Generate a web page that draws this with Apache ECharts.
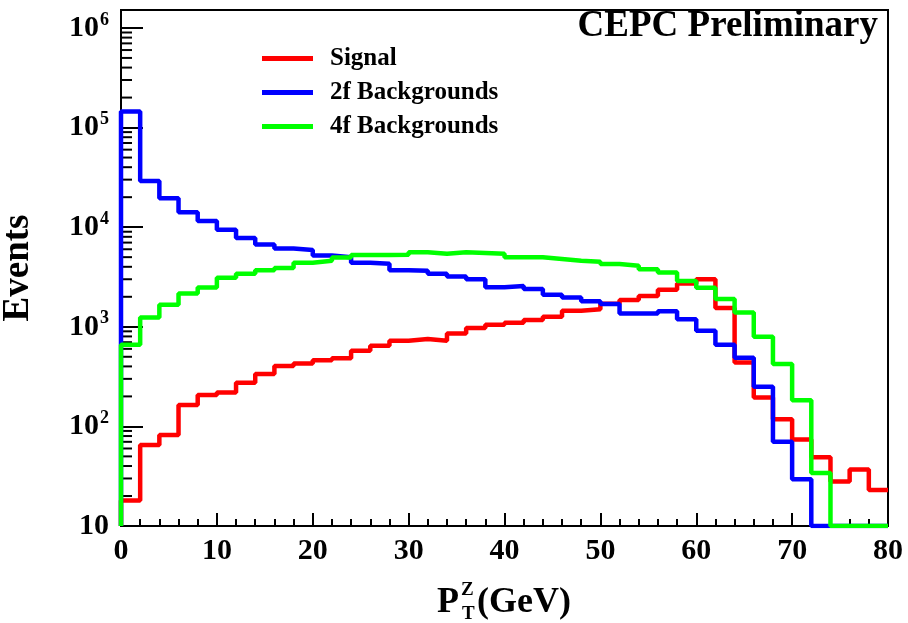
<!DOCTYPE html>
<html>
<head>
<meta charset="utf-8">
<script src="https://cdn.jsdelivr.net/npm/echarts@6/dist/echarts.min.js"></script>
<style>
  html, body { margin: 0; padding: 0; background: #fff; }
  #chart { width: 908px; height: 623px; }
</style>
</head>
<body>
<div id="chart"></div>
<script>
// bin left edges (GeV), bin width 2
var binEdges = [0, 2, 4, 6, 8, 10, 12, 14, 16, 18, 20, 22, 24, 26, 28, 30, 32, 34, 36, 38,
                40, 42, 44, 46, 48, 50, 52, 54, 56, 58, 60, 62, 64, 66, 68, 70, 72, 74, 76, 78];
var xEnd = 80;

var signal = [18, 65, 82, 164, 207, 219, 275, 335, 405, 427, 462, 484, 574, 644, 723,
              752, 723, 857, 970, 1050, 1100, 1170, 1260, 1450, 1500, 1700, 1860, 2040, 2350, 2720,
              3000, 1540, 437, 195, 118, 74, 49, 28, 37, 23];
var bkg2f = [145000, 29000, 19500, 14100, 11500, 9400, 7800, 6700, 6100, 5900, 5200, 5000, 4400, 4300, 3700,
             3660, 3400, 3200, 3000, 2500, 2570, 2400, 2100, 1970, 1800, 1690, 1360, 1360, 1430, 1190,
             910, 660, 490, 250, 70, 29.5, 10, 10, 10, 10];
var bkg4f = [660, 1240, 1660, 2160, 2480, 3100, 3400, 3700, 3900, 4400, 4600, 4970, 5250, 5250, 5300,
             5600, 5400, 5600, 5500, 5400, 5000, 5000, 4800, 4600, 4500, 4270, 4100, 3780, 3500, 2880,
             2460, 1900, 1390, 795, 422, 183, 34, 10, 10, 10];

var seriesNames = ['Signal', '2f Backgrounds', '4f Backgrounds'];
var seriesColors = ['#ff0000', '#0000ff', '#00ff00'];

// y axis: decades and the minor multipliers between them
var decades = [10, 100, 1000, 10000, 100000, 1000000];
var minorMult = [2, 3, 4, 5, 6, 7, 8, 9];
var yMin = 10, yMax = 1.514e6;

var serif = "'Liberation Serif', 'Times New Roman', serif";

function histPoints(vals) {
    // ROOT style: start from the axis floor, then one step per bin
    var pts = [[binEdges[0], yMin]];
    for (var i = 0; i < vals.length; i++) pts.push([binEdges[i], vals[i]]);
    pts.push([xEnd, vals[vals.length - 1]]);
    return pts;
}

var minorTicks = [];
decades.forEach(function (d) {
    minorMult.forEach(function (m) {
        if (d * m < yMax) minorTicks.push([0, d * m]);
    });
});

var chart = echarts.init(document.getElementById('chart'));

var lineSeries = [signal, bkg2f, bkg4f].map(function (vals, i) {
    return {
        name: seriesNames[i],
        type: 'line',
        step: 'end',
        data: histPoints(vals),
        showSymbol: false,
        symbol: 'none',
        lineStyle: { color: seriesColors[i], width: 4.5 },
        itemStyle: { color: seriesColors[i] },
        clip: true,
        z: 3 + i
    };
});

chart.setOption({
    animation: false,
    grid: {
        left: 121, right: 20, top: 10, bottom: 97,
        outerBoundsMode: 'none',
        containLabel: false,
        show: true, borderColor: '#000', borderWidth: 2, backgroundColor: '#fff'
    },
    legend: {
        data: seriesNames,
        orient: 'vertical',
        left: 262, top: 46,
        padding: 0,
        icon: 'rect',
        itemWidth: 51, itemHeight: 5,
        itemGap: 9,
        textStyle: { fontFamily: serif, fontWeight: 'bold', fontSize: 25, lineHeight: 25, color: '#000', padding: [0, 0, 0, 12] }
    },
    xAxis: {
        type: 'value',
        min: 0, max: 80, interval: 10,
        axisLine: { lineStyle: { color: '#000', width: 2 } },
        axisTick: { inside: true, length: 13, lineStyle: { color: '#000', width: 2 } },
        minorTick: { show: true, splitNumber: 5, length: 7, lineStyle: { color: '#000', width: 2 } },
        splitLine: { show: false },
        axisLabel: { fontFamily: serif, fontWeight: 'bold', fontSize: 30, color: '#000', margin: 10 }
    },
    yAxis: {
        type: 'log',
        logBase: 10,
        min: yMin, max: yMax,
        name: 'Events',
        nameLocation: 'middle',
        nameRotate: 90,
        nameGap: 84,
        nameTextStyle: { fontFamily: serif, fontWeight: 'bold', fontSize: 37, color: '#000' },
        axisLine: { lineStyle: { color: '#000', width: 2 } },
        axisTick: { inside: true, length: 22, lineStyle: { color: '#000', width: 2 } },
        splitLine: { show: false },
        axisLabel: {
            margin: 12,
            color: '#000',
            formatter: function (v) {
                var n = Math.round(Math.log10(v));
                if (Math.abs(Math.log10(v) - n) > 1e-6) return '';
                if (n === 1) return '{b|10}';
                return '{b|10}{s|' + n + '}';
            },
            rich: {
                b: { fontFamily: serif, fontWeight: 'bold', fontSize: 30, color: '#000' },
                s: { fontFamily: serif, fontWeight: 'bold', fontSize: 18, color: '#000', padding: [0, 0, 16, 1] }
            }
        }
    },
    graphic: [
        {
            type: 'text', right: 30, top: 8,
            style: { text: 'CEPC Preliminary', font: 'bold 37px ' + serif, fill: '#000' }
        },
        {
            type: 'group', left: 437, top: 581,
            children: [
                { type: 'text', x: 0, y: 0, style: { text: 'P', font: 'bold 36px ' + serif, fill: '#000' } },
                { type: 'text', x: 24, y: -4, style: { text: 'Z', font: 'bold 19px ' + serif, fill: '#000' } },
                { type: 'text', x: 25, y: 20, style: { text: 'T', font: 'bold 19px ' + serif, fill: '#000' } },
                { type: 'text', x: 40, y: 0, style: { text: '(GeV)', font: 'bold 36px ' + serif, fill: '#000' } }
            ]
        }
    ],
    series: lineSeries.concat([{
        type: 'custom',
        name: 'minorTicks',
        data: minorTicks,
        silent: true,
        z: 2,
        renderItem: function (params, api) {
            var p = api.coord([api.value(0), api.value(1)]);
            return {
                type: 'line',
                shape: { x1: params.coordSys.x, y1: p[1], x2: params.coordSys.x + 11, y2: p[1] },
                style: { stroke: '#000', lineWidth: 2 }
            };
        }
    }])
});
</script>
</body>
</html>
